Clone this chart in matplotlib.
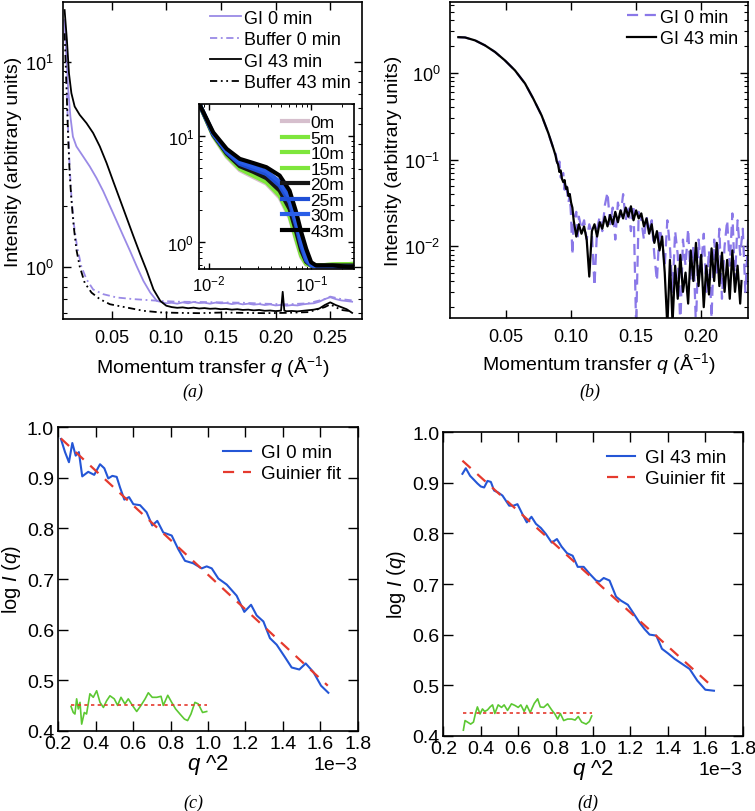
import numpy as np
import matplotlib.pyplot as plt
from matplotlib.ticker import NullFormatter, MultipleLocator

plt.rcParams['font.family'] = ['Liberation Sans', 'DejaVu Sans']
plt.rcParams['mathtext.fontset'] = 'custom'
plt.rcParams['mathtext.rm'] = 'Liberation Sans'
plt.rcParams['mathtext.it'] = 'Liberation Sans:italic'
plt.rcParams['mathtext.bf'] = 'Liberation Sans:bold'
plt.rcParams['xtick.direction'] = 'in'
plt.rcParams['ytick.direction'] = 'in'
plt.rcParams['xtick.top'] = True
plt.rcParams['ytick.right'] = True
plt.rcParams['axes.linewidth'] = 1.2

# colours
LAV = '#9a8ae6'
LAV_B = '#8a78e8'
BLUE = '#2456d6'
RED = '#e53a2e'
GREEN = '#5cc832'

# ---------------- panel (a): raw curves ----------------
a_q_gi0 = [0.007, 0.0086, 0.0101, 0.0123, 0.0146, 0.0178, 0.0239, 0.030, 0.0362, 0.0423,
           0.0484, 0.0546, 0.0607, 0.0669, 0.073, 0.0791, 0.0853, 0.0914, 0.100, 0.105,
           0.110, 0.115, 0.120, 0.125, 0.130, 0.135, 0.140, 0.145, 0.150, 0.155, 0.160,
           0.165, 0.170, 0.175, 0.180, 0.185, 0.190, 0.195, 0.200, 0.205, 0.210, 0.215,
           0.220, 0.225, 0.230, 0.235, 0.240, 0.245, 0.250, 0.255, 0.260, 0.265, 0.270]
a_I_gi0 = [16.0, 10.6, 7.6, 5.42, 4.33, 3.88, 3.47, 3.10, 2.72, 2.35,
           1.99, 1.68, 1.42, 1.20, 1.01, 0.858, 0.754, 0.686, 0.668, 0.672,
           0.665, 0.675, 0.668, 0.678, 0.670, 0.672, 0.665, 0.673, 0.668, 0.670, 0.662,
           0.668, 0.660, 0.665, 0.658, 0.662, 0.655, 0.660, 0.652, 0.656, 0.650, 0.655,
           0.652, 0.660, 0.665, 0.668, 0.680, 0.700, 0.715, 0.700, 0.690, 0.685, 0.680]

a_q_buf0 = [0.0086, 0.0101, 0.0116, 0.0132, 0.0153, 0.0183, 0.0223, 0.027, 0.0331, 0.0423,
            0.0546, 0.0699, 0.0945, 0.110, 0.130, 0.150, 0.170, 0.190, 0.210, 0.230,
            0.245, 0.250, 0.260, 0.270]
a_I_buf0 = [8.5, 4.86, 3.10, 2.22, 1.65, 1.27, 1.01, 0.875, 0.78, 0.74,
            0.713, 0.70, 0.686, 0.680, 0.678, 0.675, 0.672, 0.665, 0.660, 0.668,
            0.700, 0.720, 0.700, 0.690]

a_q_gi43 = [0.007, 0.0091, 0.0110, 0.0132, 0.0162, 0.0208, 0.027, 0.0331, 0.0392, 0.0454,
            0.0515, 0.0576, 0.0638, 0.0699, 0.0761, 0.0822, 0.0883, 0.0945, 0.100, 0.105,
            0.110, 0.115, 0.120, 0.125, 0.130, 0.135, 0.140, 0.145, 0.150, 0.155, 0.160,
            0.165, 0.170, 0.175, 0.180, 0.185, 0.190, 0.195, 0.200, 0.205, 0.2065, 0.208,
            0.210, 0.215, 0.220, 0.225, 0.230, 0.235, 0.240, 0.245, 0.250, 0.255, 0.260,
            0.265, 0.270]
a_I_gi43 = [17.9, 12.8, 8.8, 7.05, 6.07, 5.53, 5.04, 4.51, 3.88, 3.22,
            2.62, 2.14, 1.74, 1.42, 1.16, 0.96, 0.78, 0.686, 0.650, 0.640,
            0.635, 0.638, 0.632, 0.636, 0.630, 0.633, 0.628, 0.630, 0.625, 0.627, 0.622,
            0.625, 0.620, 0.622, 0.617, 0.620, 0.614, 0.616, 0.612, 0.615, 0.760, 0.615,
            0.611, 0.613, 0.610, 0.614, 0.618, 0.622, 0.630, 0.655, 0.675, 0.655, 0.640,
            0.625, 0.600]

a_q_buf43 = [0.007, 0.0086, 0.0101, 0.0116, 0.0132, 0.0153, 0.0178, 0.0208, 0.0254, 0.0316,
             0.0392, 0.0484, 0.0638, 0.0791, 0.0945, 0.110, 0.130, 0.150, 0.170, 0.190,
             0.210, 0.230, 0.245, 0.250, 0.260, 0.270]
a_I_buf43 = [13.8, 7.9, 4.51, 2.88, 2.14, 1.59, 1.22, 1.01, 0.84, 0.753,
             0.70, 0.661, 0.637, 0.614, 0.603, 0.600, 0.598, 0.602, 0.600, 0.598,
             0.600, 0.605, 0.640, 0.660, 0.620, 0.610]

# inset: curves at each time point
inset_q = [0.0082, 0.011, 0.0149, 0.020, 0.0269, 0.0363, 0.0489, 0.0611, 0.0709, 0.0794,
           0.0888, 0.0993, 0.111, 0.161, 0.252]
inset_labels = ['0m', '5m', '10m', '15m', '20m', '25m', '30m', '43m']
inset_colors = ['#d6bfcd', '#7ee63c', '#7ee63c', '#7ee63c', '#151515', '#1f4fd6', '#2a5ee8', '#000000']
inset_I_0m = [19.0, 9.9, 6.35, 4.75, 4.1, 3.55, 2.62, 1.70, 1.03, 0.72, 0.61, 0.60, 0.60, 0.61, 0.62]
inset_I_5m = [19.3, 10.1, 6.52, 4.89, 4.23, 3.66, 2.73, 1.77, 1.07, 0.74, 0.62, 0.60, 0.60, 0.61, 0.62]
inset_I_10m = [19.2, 10.15, 6.6, 4.95, 4.3, 3.72, 2.78, 1.81, 1.10, 0.76, 0.63, 0.60, 0.60, 0.61, 0.62]
inset_I_15m = [19.2, 10.2, 6.68, 5.02, 4.38, 3.80, 2.85, 1.86, 1.13, 0.78, 0.64, 0.60, 0.60, 0.61, 0.62]
inset_I_20m = [19.3, 10.25, 6.8, 5.18, 4.6, 4.0, 3.05, 2.05, 1.25, 0.83, 0.65, 0.60, 0.60, 0.60, 0.60]
inset_I_25m = [19.3, 10.4, 7.01, 5.44, 4.89, 4.38, 3.40, 2.37, 1.43, 0.92, 0.67, 0.60, 0.59, 0.59, 0.58]
inset_I_30m = [19.3, 10.55, 7.2, 5.7, 5.15, 4.65, 3.70, 2.62, 1.62, 1.03, 0.72, 0.61, 0.59, 0.59, 0.58]
inset_I_43m = [19.3, 10.8, 7.54, 6.07, 5.56, 5.07, 4.23, 3.05, 1.91, 1.24, 0.86, 0.643, 0.60, 0.60, 0.58]

# ---------------- panel (b): subtracted curves ----------------
b_q_smooth = [0.0133, 0.0185, 0.0262, 0.0338, 0.0415, 0.0492, 0.0569, 0.0646, 0.071, 0.0774,
              0.0826, 0.0864]
b_I_smooth = [2.56, 2.54, 2.35, 2.06, 1.73, 1.38, 1.06, 0.75, 0.50, 0.32, 0.20, 0.134]

b_q_gi0_tail = [0.088, 0.090, 0.091, 0.092, 0.094, 0.095, 0.096, 0.098, 0.099, 0.100,
                0.101, 0.102, 0.104, 0.105, 0.106, 0.108, 0.110, 0.112, 0.114, 0.116,
                0.118, 0.120, 0.122, 0.124, 0.126, 0.128, 0.130, 0.132, 0.134, 0.136,
                0.138, 0.140, 0.142, 0.144, 0.146, 0.148, 0.150, 0.152, 0.154, 0.156,
                0.158, 0.160, 0.162, 0.164, 0.166, 0.168, 0.170, 0.172, 0.174, 0.176,
                0.178, 0.180, 0.182, 0.184, 0.186, 0.188, 0.190, 0.192, 0.194, 0.196,
                0.198, 0.200, 0.202, 0.204, 0.206, 0.208, 0.210, 0.212, 0.214, 0.216,
                0.218, 0.220, 0.222, 0.224, 0.226, 0.228, 0.230, 0.232, 0.234, 0.236]
b_I_gi0_tail = [0.12, 0.08, 0.095, 0.062, 0.07, 0.045, 0.055, 0.032, 0.04, 0.022,
                0.008, 0.02, 0.025, 0.012, 0.022, 0.016, 0.02, 0.012, 0.018, 0.014,
                0.0035, 0.016, 0.022, 0.015, 0.03, 0.042, 0.018, 0.028, 0.012, 0.032,
                0.022, 0.04, 0.02, 0.03, 0.015, 0.03, 0.0012, 0.025, 0.02, 0.012,
                0.022, 0.015, 0.02, 0.008, 0.004, 0.016, 0.012, 0.006, 0.02, 0.01,
                0.003, 0.015, 0.008, 0.0012, 0.012, 0.006, 0.016, 0.004, 0.01, 0.0012,
                0.012, 0.006, 0.014, 0.003, 0.009, 0.0015, 0.012, 0.005, 0.016, 0.0025,
                0.01, 0.02, 0.006, 0.024, 0.004, 0.02, 0.008, 0.016, 0.003, 0.012]

b_q_gi43_tail = [0.088, 0.089, 0.090, 0.091, 0.092, 0.093, 0.094, 0.095, 0.096, 0.097,
                 0.098, 0.099, 0.100, 0.101, 0.102, 0.104, 0.106, 0.108, 0.110, 0.112,
                 0.114, 0.116, 0.118, 0.120, 0.122, 0.124, 0.126, 0.128, 0.130, 0.132,
                 0.134, 0.136, 0.138, 0.140, 0.142, 0.144, 0.146, 0.148, 0.150, 0.152,
                 0.154, 0.156, 0.158, 0.160, 0.162, 0.164, 0.166, 0.168, 0.170, 0.172,
                 0.174, 0.176, 0.178, 0.180, 0.182, 0.184, 0.186, 0.188, 0.190, 0.192,
                 0.194, 0.196, 0.198, 0.200, 0.202, 0.204, 0.206, 0.208, 0.210, 0.212,
                 0.214, 0.216, 0.218, 0.220, 0.222, 0.224, 0.226, 0.228, 0.230, 0.231]
b_I_gi43_tail = [0.112, 0.095, 0.088, 0.072, 0.075, 0.060, 0.055, 0.058, 0.046, 0.048,
                 0.038, 0.040, 0.032, 0.028, 0.020, 0.013, 0.018, 0.014, 0.017, 0.012,
                 0.0045, 0.015, 0.018, 0.013, 0.019, 0.016, 0.022, 0.017, 0.023, 0.018,
                 0.025, 0.019, 0.026, 0.021, 0.028, 0.022, 0.029, 0.020, 0.026, 0.021,
                 0.024, 0.017, 0.021, 0.014, 0.018, 0.011, 0.015, 0.009, 0.013, 0.005,
                 0.0012, 0.007, 0.0013, 0.006, 0.0025, 0.008, 0.003, 0.005, 0.0022, 0.009,
                 0.004, 0.011, 0.0035, 0.008, 0.002, 0.006, 0.0028, 0.0095, 0.004, 0.011,
                 0.0035, 0.0085, 0.003, 0.007, 0.0025, 0.009, 0.003, 0.006, 0.0022, 0.004]

# ---------------- panel (c): Guinier, GI 0 min ----------------
c_q2 = [0.214, 0.236, 0.257, 0.275, 0.293, 0.310, 0.328, 0.360, 0.392, 0.423, 0.446, 0.467,
        0.489, 0.512, 0.530, 0.553, 0.578, 0.601, 0.637, 0.672, 0.702, 0.729, 0.761, 0.806,
        0.841, 0.877, 0.922, 0.966, 0.993, 1.020, 1.055, 1.100, 1.153, 1.194, 1.230, 1.260,
        1.296, 1.331, 1.367, 1.412, 1.447, 1.488, 1.522, 1.563, 1.604, 1.643]
c_logI = [0.977, 0.951, 0.931, 0.969, 0.944, 0.951, 0.903, 0.912, 0.906, 0.927, 0.919, 0.899,
          0.904, 0.902, 0.881, 0.857, 0.862, 0.848, 0.846, 0.832, 0.806, 0.815, 0.792, 0.786,
          0.759, 0.736, 0.731, 0.721, 0.725, 0.721, 0.701, 0.689, 0.667, 0.635, 0.649, 0.628,
          0.616, 0.583, 0.570, 0.545, 0.525, 0.521, 0.533, 0.516, 0.489, 0.475]
c_fit_q2 = [0.214, 1.640]
c_fit_logI = [0.978, 0.489]
c_res_q2 = [0.268, 0.280, 0.289, 0.298, 0.307, 0.316, 0.325, 0.339, 0.351, 0.369, 0.387,
            0.405, 0.423, 0.441, 0.458, 0.476, 0.499, 0.517, 0.535, 0.556, 0.574, 0.596,
            0.619, 0.642, 0.664, 0.681, 0.702, 0.726, 0.749, 0.761, 0.785, 0.806, 0.827,
            0.850, 0.874, 0.891, 0.909, 0.930, 0.948, 0.971, 0.993]
c_res = [0.448, 0.436, 0.433, 0.463, 0.443, 0.456, 0.413, 0.436, 0.433, 0.473, 0.466,
         0.479, 0.456, 0.446, 0.459, 0.469, 0.463, 0.450, 0.466, 0.453, 0.463, 0.450,
         0.438, 0.450, 0.463, 0.475, 0.466, 0.466, 0.468, 0.450, 0.470, 0.456, 0.443,
         0.433, 0.423, 0.420, 0.433, 0.456, 0.453, 0.436, 0.438]
c_res_level = 0.451

# ---------------- panel (d): Guinier, GI 43 min ----------------
d_q2 = [0.302, 0.320, 0.343, 0.364, 0.382, 0.400, 0.418, 0.436, 0.454, 0.471, 0.493, 0.516,
        0.534, 0.552, 0.575, 0.596, 0.623, 0.646, 0.671, 0.695, 0.721, 0.748, 0.779, 0.807,
        0.832, 0.861, 0.891, 0.918, 0.950, 0.980, 1.016, 1.034, 1.057, 1.088, 1.123, 1.150,
        1.186, 1.218, 1.248, 1.275, 1.302, 1.338, 1.368, 1.400, 1.436, 1.480, 1.516, 1.557,
        1.600, 1.646]
d_logI = [0.918, 0.929, 0.914, 0.906, 0.899, 0.893, 0.891, 0.904, 0.902, 0.885, 0.881, 0.875,
          0.865, 0.855, 0.855, 0.858, 0.838, 0.822, 0.833, 0.819, 0.811, 0.799, 0.782, 0.789,
          0.774, 0.761, 0.756, 0.734, 0.734, 0.721, 0.707, 0.705, 0.712, 0.707, 0.675, 0.667,
          0.659, 0.641, 0.624, 0.611, 0.600, 0.598, 0.572, 0.563, 0.552, 0.541, 0.532, 0.509,
          0.491, 0.489]
d_fit_q2 = [0.302, 1.641]
d_fit_logI = [0.944, 0.496]
d_res_q2 = [0.307, 0.316, 0.329, 0.346, 0.361, 0.373, 0.382, 0.396, 0.409, 0.421, 0.436,
            0.450, 0.463, 0.475, 0.493, 0.511, 0.525, 0.543, 0.564, 0.582, 0.600, 0.614,
            0.632, 0.646, 0.664, 0.686, 0.704, 0.718, 0.736, 0.757, 0.779, 0.796, 0.811,
            0.825, 0.843, 0.864, 0.886, 0.904, 0.921, 0.939, 0.963, 0.980, 0.993]
d_res = [0.411, 0.430, 0.427, 0.423, 0.427, 0.446, 0.457, 0.443, 0.453, 0.448, 0.451,
         0.457, 0.461, 0.444, 0.461, 0.456, 0.461, 0.450, 0.463, 0.460, 0.456, 0.461,
         0.448, 0.460, 0.446, 0.464, 0.473, 0.457, 0.456, 0.463, 0.451, 0.443, 0.433,
         0.444, 0.430, 0.433, 0.433, 0.431, 0.438, 0.427, 0.423, 0.428, 0.439]
d_res_level = 0.444

SCALE = 1e-3  # q^2 values above are in units of 1e-3


def log_ticks(ax, fs):
    ax.tick_params(which='major', length=6, width=1, labelsize=fs, pad=7)
    ax.tick_params(which='minor', length=3, width=0.8)
    ax.yaxis.set_minor_formatter(NullFormatter())


fig = plt.figure(figsize=(7.55, 8.12), dpi=100)

# (a)
ax_a = fig.add_axes([0.0834, 0.6059, 0.396, 0.3904])
ax_a.plot(a_q_gi0, a_I_gi0, color=LAV, lw=1.3, label='GI 0 min')
ax_a.plot(a_q_buf0, a_I_buf0, color=LAV, lw=1.3, ls=(0, (4, 2, 1, 2)), label='Buffer 0 min')
ax_a.plot(a_q_gi43, a_I_gi43, color='black', lw=1.3, label='GI 43 min')
ax_a.plot(a_q_buf43, a_I_buf43, color='black', lw=1.3, ls=(0, (4, 2, 1, 2, 1, 2)),
          label='Buffer 43 min')
ax_a.set_yscale('log')
ax_a.set_xlim(0.0055, 0.279)
ax_a.set_ylim(0.56, 19.6)
ax_a.set_xticks([0.05, 0.10, 0.15, 0.20, 0.25])
ax_a.set_xticklabels(['0.05', '0.10', '0.15', '0.20', '0.25'])
log_ticks(ax_a, 13)
ax_a.set_xlabel('Momentum transfer $q$ (Å$^{-1}$)', fontsize=14, labelpad=5)
ax_a.set_ylabel('Intensity (arbitrary units)', fontsize=14, labelpad=2)
ax_a.legend(loc='upper right', frameon=False, fontsize=13, handlelength=1.7,
            handletextpad=0.2, labelspacing=0.25, borderpad=0.1,
            bbox_to_anchor=(1.0, 1.01))

# inset
ax_in = fig.add_axes([0.2636, 0.6675, 0.2053, 0.2032])
inset_curves = [inset_I_0m, inset_I_5m, inset_I_10m, inset_I_15m,
                inset_I_20m, inset_I_25m, inset_I_30m, inset_I_43m]
for lab, col, vals in zip(inset_labels, inset_colors, inset_curves):
    ax_in.plot(inset_q, vals, color=col, lw=3, label=lab)
ax_in.set_xscale('log')
ax_in.set_yscale('log')
ax_in.set_xlim(0.008, 0.26)
ax_in.set_ylim(0.556, 20)
ax_in.tick_params(which='major', length=4, width=1, labelsize=12)
ax_in.tick_params(which='minor', length=2, width=0.7)
ax_in.xaxis.set_minor_formatter(NullFormatter())
ax_in.yaxis.set_minor_formatter(NullFormatter())
ax_in.legend(loc='upper right', frameon=False, fontsize=12.5, handlelength=1.5,
             handletextpad=0.15, labelspacing=0.02, borderpad=0.05,
             bbox_to_anchor=(1.0, 0.99))

# (b)
ax_b = fig.add_axes([0.596, 0.6071, 0.3947, 0.3892])
ax_b.plot(b_q_smooth + b_q_gi0_tail, b_I_smooth + b_I_gi0_tail, color=LAV_B, lw=1.6,
          ls=(0, (5, 3)), label='GI 0 min')
ax_b.plot(b_q_smooth + b_q_gi43_tail, b_I_smooth + b_I_gi43_tail, color='black', lw=1.6,
          label='GI 43 min')
ax_b.set_yscale('log')
ax_b.set_xlim(0.0069, 0.236)
ax_b.set_ylim(0.0015, 6.5)
ax_b.set_xticks([0.05, 0.10, 0.15, 0.20])
ax_b.set_xticklabels(['0.05', '0.10', '0.15', '0.20'])
log_ticks(ax_b, 13)
ax_b.set_xlabel('Momentum transfer $q$ (Å$^{-1}$)', fontsize=14, labelpad=4)
ax_b.set_ylabel('Intensity (arbitrary units)', fontsize=14, labelpad=2)
ax_b.legend(loc='upper right', frameon=False, fontsize=13, handlelength=1.6,
            handletextpad=0.2, labelspacing=0.25, borderpad=0.05,
            bbox_to_anchor=(1.0, 1.01))


def guinier_panel(rect, q2, logI, fq2, flogI, rq2, res, level, label):
    ax = fig.add_axes(rect)
    ax.plot(np.array(q2) * SCALE, logI, color=BLUE, lw=1.5, label=label)
    ax.plot(np.array(fq2) * SCALE, flogI, color=RED, lw=1.6, ls=(0, (5, 4)),
            label='Guinier fit')
    ax.plot(np.array(rq2) * SCALE, res, color=GREEN, lw=1.2)
    ax.plot([rq2[0] * SCALE, rq2[-1] * SCALE], [level, level], color=RED, lw=1.2,
            ls=(0, (2, 2)))
    ax.set_xlim(0.2e-3, 1.8e-3)
    ax.set_ylim(0.4, 1.0)
    ax.xaxis.set_major_locator(MultipleLocator(0.2e-3))
    ax.yaxis.set_major_locator(MultipleLocator(0.1))
    ax.ticklabel_format(axis='x', style='sci', scilimits=(0, 0))
    ax.tick_params(length=7, width=1, labelsize=14, pad=3)
    ax.xaxis.get_offset_text().set_fontsize(14)
    ax.set_xlabel('$q$ ^2', fontsize=16, labelpad=0)
    ax.set_ylabel('log $I$ ($q$)', fontsize=14.5, labelpad=3)
    ax.legend(loc='upper right', frameon=False, fontsize=13.5, handlelength=1.5,
              handletextpad=0.5, labelspacing=0.2, borderpad=0.4)
    return ax


ax_c = guinier_panel([0.0772, 0.0989, 0.3966, 0.3736], c_q2, c_logI, c_fit_q2, c_fit_logI,
                     c_res_q2, c_res, c_res_level, 'GI 0 min')
ax_d = guinier_panel([0.5872, 0.0927, 0.3966, 0.3736], d_q2, d_logI, d_fit_q2, d_fit_logI,
                     d_res_q2, d_res, d_res_level, 'GI 43 min')

# panel captions
for x, y, t in [(0.2556, 0.5172, '(a)'), (0.7815, 0.5172, '(b)'),
                (0.2556, 0.0111, '(c)'), (0.7788, 0.0111, '(d)')]:
    fig.text(x, y, t, family='Liberation Serif', style='italic', fontsize=13,
             ha='center', va='center')

fig.savefig('out.png', dpi=100)
